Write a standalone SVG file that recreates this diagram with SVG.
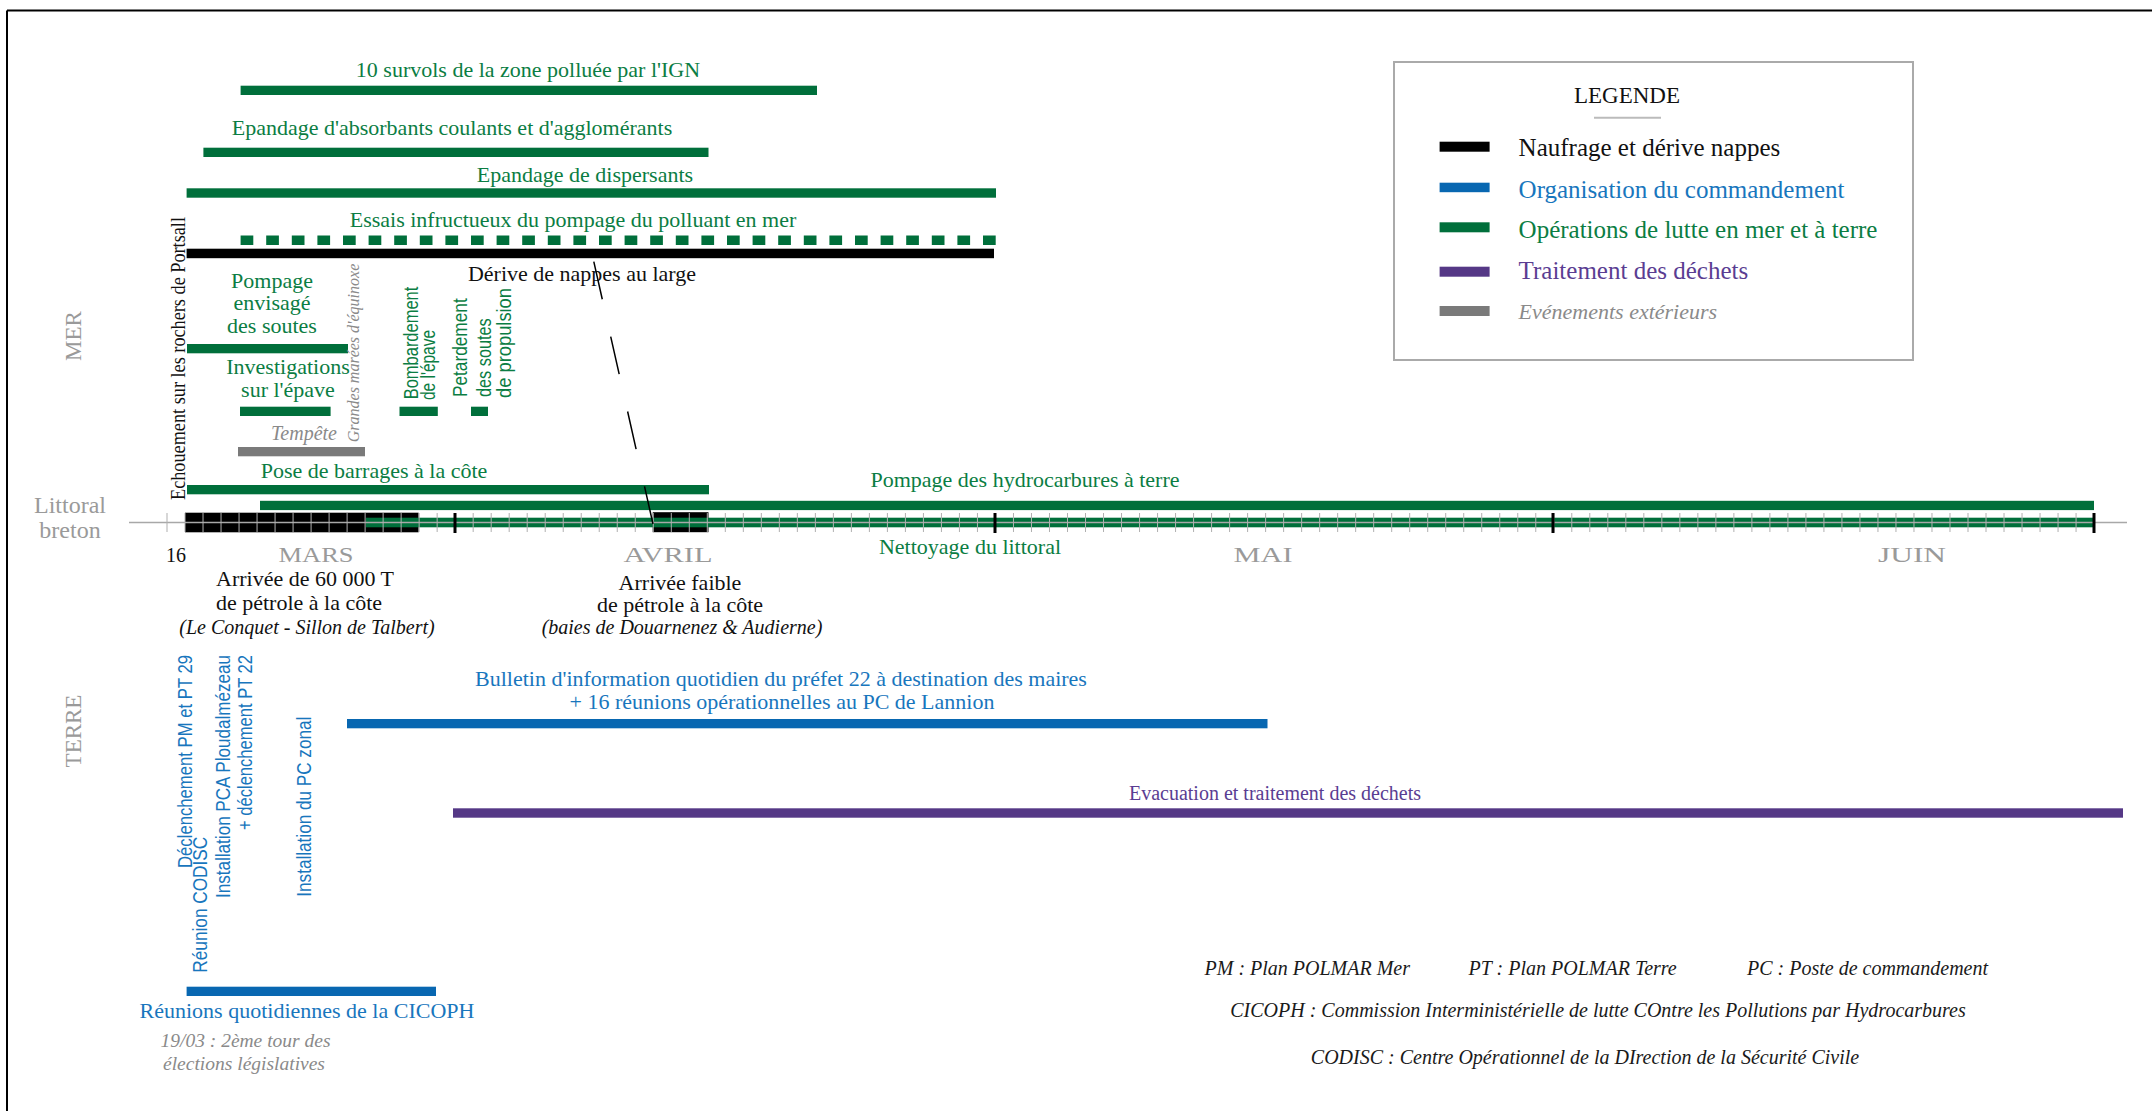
<svg xmlns="http://www.w3.org/2000/svg" width="2152" height="1111" viewBox="0 0 2152 1111" font-size="22">
<style>
text { font-family: 'Liberation Serif', 'Times New Roman', serif; }
.sans { font-family: 'Liberation Sans', Arial, sans-serif; font-size: 19.5px; }
.it { font-style: italic; }
.tg { fill: #0b7d43; }
.tb { fill: #1876bd; }
.tp { fill: #5a3d92; }
.tk { fill: #111; }
.tgr { fill: #9a9a9a; }
.tgi { fill: #8a8a8a; font-style: italic; }
.bg { fill: #006f3b; }
.bb { fill: #0867b1; }
.bp { fill: #553886; }
.bk { fill: #000; }
.bgr { fill: #7a7a7a; }
.leg { font-size: 25px; }
.month { fill: #9a9a9a; font-size: 21px; }
.foot { font-style: italic; font-size: 20px; fill: #1a1a1a; }
</style>

<!-- frame -->
<g id="frame">
  <line x1="7" y1="10.5" x2="2152" y2="10.5" stroke="#000" stroke-width="2"/>
  <line x1="7" y1="10.5" x2="7" y2="1111" stroke="#000" stroke-width="2"/>
</g>

<!-- section labels -->
<g id="section-labels">
  <text class="tgr" font-size="23" text-anchor="middle" transform="translate(80.5,336) rotate(-90)">MER</text>
  <text class="tgr" font-size="24" text-anchor="middle" x="70" y="513">Littoral</text>
  <text class="tgr" font-size="24" text-anchor="middle" x="70" y="538">breton</text>
  <text class="tgr" font-size="23" text-anchor="middle" transform="translate(81,731) rotate(-90)">TERRE</text>
</g>

<!-- MER nodes -->
<g id="survols">
  <rect class="bg" x="240.6" y="85.7" width="576.4" height="9.3"/>
  <text class="tg" text-anchor="middle" x="528" y="76.5">10 survols de la zone polluée par l'IGN</text>
</g>
<g id="absorbants">
  <rect class="bg" x="203.4" y="147.7" width="505.1" height="9.3"/>
  <text class="tg" text-anchor="middle" x="452" y="135">Epandage d'absorbants coulants et d'agglomérants</text>
</g>
<g id="dispersants">
  <rect class="bg" x="186.6" y="188.3" width="809.4" height="9.4"/>
  <text class="tg" text-anchor="middle" x="585" y="182.3">Epandage de dispersants</text>
</g>
<g id="essais-pompage">
  <line x1="240.6" y1="240.3" x2="996" y2="240.3" stroke="#006f3b" stroke-width="9.5" stroke-dasharray="12.7 12.9"/>
  <text class="tg" text-anchor="middle" x="573" y="226.7">Essais infructueux du pompage du polluant en mer</text>
</g>
<g id="derive-nappes">
  <rect class="bk" x="186.6" y="248.7" width="807.4" height="9.5"/>
  <text class="tk" text-anchor="middle" x="582" y="281">Dérive de nappes au large</text>
</g>
<g id="echouement">
  <text class="tk" font-size="21" text-anchor="middle" textLength="283" lengthAdjust="spacingAndGlyphs" transform="translate(184.5,358.5) rotate(-90)">Echouement sur les rochers de Portsall</text>
</g>
<g id="pompage-soutes">
  <rect class="bg" x="187" y="344" width="161" height="9.3"/>
  <text class="tg" text-anchor="middle" x="272" y="288.3">Pompage</text>
  <text class="tg" text-anchor="middle" x="272" y="310">envisagé</text>
  <text class="tg" text-anchor="middle" x="272" y="333.3">des soutes</text>
</g>
<g id="investigations">
  <rect class="bg" x="240" y="406.7" width="90.6" height="9.3"/>
  <text class="tg" text-anchor="middle" x="288" y="374">Investigations</text>
  <text class="tg" text-anchor="middle" x="288" y="396.7">sur l'épave</text>
</g>
<g id="tempete">
  <rect class="bgr" x="238" y="447" width="127" height="9.3"/>
  <text class="tgi" font-size="20" text-anchor="end" x="337" y="440">Tempête</text>
</g>
<g id="grandes-marees">
  <text class="tgi" font-size="16" text-anchor="middle" transform="translate(359,353) rotate(-90)">Grandes marées d'équinoxe</text>
</g>
<g id="bombardement">
  <rect class="bg" x="399.5" y="406.7" width="38.3" height="9.3"/>
  <text class="sans tg" textLength="112.6" lengthAdjust="spacingAndGlyphs" transform="translate(418,399.3) rotate(-90)">Bombardement</text>
  <text class="sans tg" textLength="70" lengthAdjust="spacingAndGlyphs" transform="translate(435,400) rotate(-90)">de l'épave</text>
</g>
<g id="petardement">
  <rect class="bg" x="471" y="406.7" width="17" height="9.3"/>
  <text class="sans tg" textLength="98.7" lengthAdjust="spacingAndGlyphs" transform="translate(466.5,397) rotate(-90)">Petardement</text>
  <text class="sans tg" textLength="78.7" lengthAdjust="spacingAndGlyphs" transform="translate(490.5,397) rotate(-90)">des soutes</text>
  <text class="sans tg" textLength="110" lengthAdjust="spacingAndGlyphs" transform="translate(510.5,398) rotate(-90)">de propulsion</text>
</g>
<g id="barrages">
  <rect class="bg" x="187" y="485" width="522" height="9.3"/>
  <text class="tg" text-anchor="middle" x="374" y="478.3">Pose de barrages à la côte</text>
</g>
<g id="pompage-terre">
  <rect class="bg" x="260" y="500.8" width="1834" height="9.3"/>
  <text class="tg" text-anchor="middle" x="1025" y="487">Pompage des hydrocarbures à terre</text>
</g>

<!-- timeline -->
<g id="timeline">
  <rect class="bk" x="185" y="512.7" width="233.6" height="19.6"/>
  <rect class="bk" x="652.7" y="512.2" width="55.8" height="20"/>
  <rect class="bg" x="366" y="517.7" width="1728" height="9.6"/>
  <line x1="129" y1="522.5" x2="2127" y2="522.5" stroke="#a8a8a8" stroke-width="1.5"/>
  <line x1="166.5" y1="522.5" x2="2095" y2="522.5" stroke="#b0b0b0" stroke-width="19" stroke-dasharray="1 17.01"/>
  <g stroke="#000" stroke-width="3">
    <line x1="455" y1="513" x2="455" y2="533"/>
    <line x1="995" y1="513" x2="995" y2="533"/>
    <line x1="1553" y1="513" x2="1553" y2="533"/>
    <line x1="2094" y1="513" x2="2094" y2="533"/>
  </g>
  <text class="tk" font-size="20" x="166" y="561.7">16</text>
  <text class="month" text-anchor="middle" x="316" y="561.7" textLength="75" lengthAdjust="spacingAndGlyphs">MARS</text>
  <text class="month" text-anchor="middle" x="668" y="561.7" textLength="89" lengthAdjust="spacingAndGlyphs">AVRIL</text>
  <text class="month" text-anchor="middle" x="1263" y="561.7" textLength="59" lengthAdjust="spacingAndGlyphs">MAI</text>
  <text class="month" text-anchor="middle" x="1912" y="561.7" textLength="68" lengthAdjust="spacingAndGlyphs">JUIN</text>
  <text class="tg" text-anchor="middle" x="970" y="554">Nettoyage du littoral</text>
</g>

<g id="arrivee-60000">
  <text class="tk" text-anchor="middle" x="305" y="586">Arrivée de 60 000 T</text>
  <text class="tk" text-anchor="middle" x="299" y="610">de pétrole à la côte</text>
  <text class="tk it" font-size="20" text-anchor="middle" x="307" y="634">(Le Conquet - Sillon de Talbert)</text>
</g>
<g id="arrivee-faible">
  <text class="tk" text-anchor="middle" x="680" y="590">Arrivée faible</text>
  <text class="tk" text-anchor="middle" x="680" y="612">de pétrole à la côte</text>
  <text class="tk it" font-size="20" text-anchor="middle" x="682" y="634">(baies de Douarnenez &amp; Audierne)</text>
</g>

<!-- TERRE nodes -->
<g id="codisc">
  <text class="sans tb" text-anchor="end" textLength="213" lengthAdjust="spacingAndGlyphs" transform="translate(191.5,655) rotate(-90)">Déclenchement PM et PT 29</text>
  <text class="sans tb" textLength="136" lengthAdjust="spacingAndGlyphs" transform="translate(207,972.7) rotate(-90)">Réunion CODISC</text>
</g>
<g id="pca">
  <text class="sans tb" text-anchor="end" textLength="243" lengthAdjust="spacingAndGlyphs" transform="translate(229.5,655) rotate(-90)">Installation PCA Ploudalmézeau</text>
  <text class="sans tb" text-anchor="end" textLength="175" lengthAdjust="spacingAndGlyphs" transform="translate(251.5,655) rotate(-90)">+ déclenchement PT 22</text>
</g>
<g id="pc-zonal">
  <text class="sans tb" textLength="180" lengthAdjust="spacingAndGlyphs" transform="translate(310.5,896.7) rotate(-90)">Installation du PC zonal</text>
</g>
<g id="bulletin">
  <rect class="bb" x="347" y="719" width="920.5" height="9.3"/>
  <text class="tb" text-anchor="middle" x="781" y="686">Bulletin d'information quotidien du préfet 22 à destination des maires</text>
  <text class="tb" text-anchor="middle" x="782" y="709">+ 16 réunions opérationnelles au PC de Lannion</text>
</g>
<g id="dechets">
  <rect class="bp" x="453" y="808.3" width="1670" height="9.4"/>
  <text class="tp" font-size="20" text-anchor="middle" x="1275" y="800">Evacuation et traitement des déchets</text>
</g>
<g id="cicoph">
  <rect class="bb" x="186.6" y="986.7" width="249.4" height="9.3"/>
  <text class="tb" text-anchor="middle" x="307" y="1018">Réunions quotidiennes de la CICOPH</text>
</g>
<g id="elections">
  <text class="tgi" font-size="19.5" text-anchor="middle" x="245.5" y="1046.7">19/03 : 2ème tour des</text>
  <text class="tgi" font-size="19.5" text-anchor="middle" x="244" y="1070">élections législatives</text>
</g>

<!-- legend -->
<g id="legend">
  <rect x="1394" y="62" width="519" height="298" fill="#fff" stroke="#aaa" stroke-width="2"/>
  <text class="tk" font-size="23" text-anchor="middle" x="1627" y="103.3">LEGENDE</text>
  <line x1="1594" y1="117.7" x2="1661" y2="117.7" stroke="#bbb" stroke-width="2"/>
  <rect class="bk" x="1439.6" y="141.7" width="50" height="10"/>
  <rect class="bb" x="1439.6" y="182.7" width="50" height="9.5"/>
  <rect class="bg" x="1439.6" y="222.3" width="50" height="10"/>
  <rect class="bp" x="1439.6" y="266.7" width="50" height="10"/>
  <rect class="bgr" x="1439.6" y="306" width="50" height="10"/>
  <text class="leg tk" x="1518.6" y="156">Naufrage et dérive nappes</text>
  <text class="leg tb" x="1518.6" y="197.7">Organisation du commandement</text>
  <text class="leg tg" x="1518.6" y="238.3">Opérations de lutte en mer et à terre</text>
  <text class="leg tp" x="1518.6" y="279.3">Traitement des déchets</text>
  <text class="tgi" font-size="22" x="1518.6" y="319.3">Evénements extérieurs</text>
</g>

<!-- footnotes -->
<g id="footnotes">
  <text class="foot" x="1204.5" y="975">PM : Plan POLMAR Mer</text>
  <text class="foot" x="1468.6" y="975">PT : Plan POLMAR Terre</text>
  <text class="foot" x="1747" y="975">PC : Poste de commandement</text>
  <text class="foot" text-anchor="middle" x="1598" y="1016.7">CICOPH : Commission Interministérielle de lutte COntre les Pollutions par Hydrocarbures</text>
  <text class="foot" text-anchor="middle" x="1585" y="1064">CODISC : Centre Opérationnel de la DIrection de la Sécurité Civile</text>
</g>

<!-- connectors -->
<g id="connectors">
  <line x1="593.8" y1="261.7" x2="653" y2="524" stroke="#000" stroke-width="1.5" stroke-dasharray="38.5 38.3"/>
</g>
</svg>
